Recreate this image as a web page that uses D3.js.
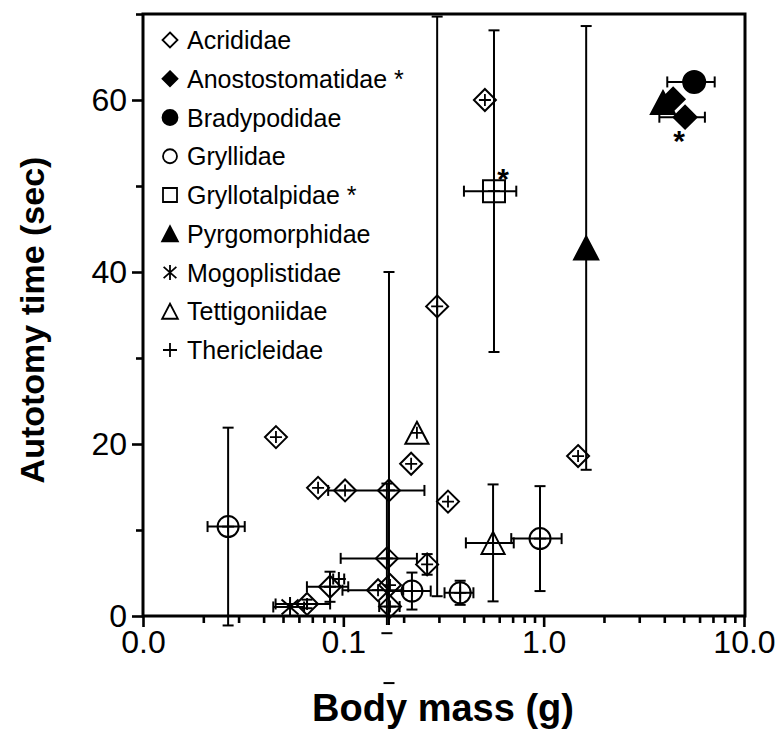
<!DOCTYPE html>
<html><head><meta charset="utf-8">
<script src="https://cdn.jsdelivr.net/npm/d3@7"></script>
<style>body{margin:0;background:#fff}svg{display:block}</style>
</head><body><svg id="c" width="780" height="749"></svg>
<script>
// ---------- data: [body mass (g), autotomy time (s), mass err, time err (number or [low, high])]
const families = ["Acrididae","Anostostomatidae *","Bradypodidae","Gryllidae","Gryllotalpidae *","Pyrgomorphidae","Mogoplistidae","Tettigoniidae","Thericleidae"];
const acrididae = [
  [0.0461,20.8,0,0],[0.0748,14.9,0,0],[0.102,14.6,0,0],[0.169,14.6,0.085,[22.4,25.4]],
  [0.0659,1.4,0.02,0.5],[0.0858,3.4,0.02,1.75],[0.165,6.7,0.068,8.7],[0.149,3.0,0.05,0],
  [0.171,3.6,0,0],[0.171,1.1,0.02,0],[0.262,6.0,0,1.2],[0.218,17.7,0,0],
  [0.333,13.3,0,0],[0.294,36.0,0,33.7],[0.509,60.0,0,0],[1.485,18.6,0,0]
];
const anostostomatidae = [[5.08,58.0,1.3,0],[4.43,60.1,0,0]];
const bradypodidae = [[5.64,62.1,1.5,0]];
const gryllidae = [[0.0266,10.4,0.0056,11.5],[0.220,2.9,0.053,2.15],[0.383,2.7,0.063,1.4],[0.959,9.0,0.27,6.1]];
const gryllotalpidae = [[0.565,49.4,0.165,18.7]];
const pyrgomorphidae = [[1.63,42.8,0,25.8],[3.94,59.7,0,0]];
const mogoplistidae = [[0.0542,1.05,0.0095,0]];
const tettigoniidae = [[0.233,21.3,0,0],[0.559,8.5,0.15,6.8]];
const thericleidae = [[0.095,4.3,0.006,0]];
const xMajorTicks = [0.01,0.1,1,10];
const xTickLabels = ["0.0","0.1","1.0","10.0"];
const yMajorTicks = [0,20,40,60];
const yMinorTicks = [10,30,50,70];

// ---------- styles per family
const styles = [
  {shape:"diamond", fill:false, s:11},
  {shape:"diamond", fill:true,  s:11.5},
  {shape:"circle",  fill:true,  s:11},
  {shape:"circle",  fill:false, s:10.5},
  {shape:"square",  fill:false, s:11},
  {shape:"triangle",fill:true,  s:11.5},
  {shape:"asterisk",fill:false, s:10},
  {shape:"triangle",fill:false, s:11},
  {shape:"plus",    fill:false, s:7}
];
const seriesData = [acrididae,anostostomatidae,bradypodidae,gryllidae,gryllotalpidae,pyrgomorphidae,mogoplistidae,tettigoniidae,thericleidae];

const L=143,R=744,T=14,B=616;
const svg=d3.select("#c");
const x=d3.scaleLog().domain([0.01,10]).range([L,R]);
const y=d3.scaleLinear().domain([0,70]).range([B,T]);
const FONT="'Liberation Sans', Arial, Helvetica, sans-serif";

function shapePath(t,s){
  switch(t){
    case "diamond": return `M0,${-s}L${s},0L0,${s}L${-s},0Z`;
    case "circle": return `M${s},0A${s},${s} 0 1,1 ${-s},0A${s},${s} 0 1,1 ${s},0Z`;
    case "square": return `M${-s},${-s}H${s}V${s}H${-s}Z`;
    case "triangle": return `M0,${-s}L${s*1.05},${s}L${-s*1.05},${s}Z`;
    case "asterisk": return `M0,${-s}V${s}M${-0.85*s},${-0.75*s}L${0.85*s},${0.75*s}M${-0.85*s},${0.75*s}L${0.85*s},${-0.75*s}`;
    case "plus": return `M${-s},0H${s}M0,${-s}V${s}`;
  }
}

// ---------- axes
const minorX=[];
[0.01,0.1,1].forEach(d=>{for(let k=2;k<=9;k++) minorX.push(d*k);});
const gx=svg.append("g").attr("transform",`translate(0,${B})`);
gx.call(d3.axisBottom(x).tickValues(minorX).tickSize(7).tickFormat(""));
gx.select(".domain").remove();
const gx2=svg.append("g").attr("transform",`translate(0,${B})`);
gx2.call(d3.axisBottom(x).tickValues(xMajorTicks).tickSize(11).tickPadding(3)
  .tickFormat((d,i)=>xTickLabels[i]));
gx2.select(".domain").remove();
gx2.selectAll("text").attr("font-size",32).attr("font-family",FONT).attr("fill","#000");

const gy=svg.append("g").attr("transform",`translate(${L},0)`);
gy.call(d3.axisLeft(y).tickValues(yMinorTicks).tickSize(7).tickFormat(""));
gy.select(".domain").remove();
const gy2=svg.append("g").attr("transform",`translate(${L},0)`);
gy2.call(d3.axisLeft(y).tickValues(yMajorTicks).tickSize(11).tickPadding(5).tickFormat(d3.format("d")));
gy2.select(".domain").remove();
gy2.selectAll("text").attr("font-size",32).attr("font-family",FONT).attr("fill","#000");
svg.selectAll(".tick line").attr("stroke","#000").attr("stroke-width",2.6);

// frame
svg.append("path").attr("d",`M${L},${T}H${R+1}V${B}H${L}Z`).attr("fill","none").attr("stroke","#000").attr("stroke-width",3);

// ---------- error bars
const eb=svg.append("g").attr("stroke","#000").attr("stroke-width",2).attr("fill","none");
const CAP=5.5, LOWCLIP=B+9;
seriesData.forEach((arr)=>{
  arr.forEach(p=>{
    const cx=x(p[0]), cy=y(p[1]);
    if(p[2]>0){
      const x0=x(p[0]-p[2]), x1=x(p[0]+p[2]);
      eb.append("line").attr("x1",x0).attr("x2",x1).attr("y1",cy).attr("y2",cy);
      [x0,x1].forEach(v=>eb.append("line").attr("x1",v).attr("x2",v).attr("y1",cy-CAP).attr("y2",cy+CAP));
    }
    const te=Array.isArray(p[3])?p[3]:[p[3],p[3]];
    if(te[0]>0||te[1]>0){
      const y0=y(p[1]-te[0]), y1=Math.max(y(p[1]+te[1]),T+1);
      eb.append("line").attr("x1",cx).attr("x2",cx).attr("y1",Math.min(y0,LOWCLIP)).attr("y2",y1);
      [y0,y1].forEach(v=>eb.append("line").attr("x1",cx-CAP).attr("x2",cx+CAP).attr("y1",v).attr("y2",v));
    }
  });
});

// ---------- markers
const mk=svg.append("g");
seriesData.forEach((arr,i)=>{
  const st=styles[i];
  arr.forEach(p=>{
    const g=mk.append("g").attr("transform",`translate(${x(p[0])},${y(p[1])})`);
    g.append("path").attr("d",shapePath(st.shape,st.s))
      .attr("fill",st.fill?"#000":"none").attr("stroke","#000").attr("stroke-width",2)
      .attr("stroke-linejoin","miter");
    if(!st.fill && st.shape!=="plus" && st.shape!=="asterisk"){
      g.append("path").attr("d",shapePath("plus",6)).attr("stroke","#000").attr("stroke-width",1.8);
    }
  });
});

// annotation asterisks (significance marks) next to points
const annot=[[gryllotalpidae[0],9,-2],[anostostomatidae[0],-6,34]];
annot.forEach(a=>{
  svg.append("text").attr("x",x(a[0][0])+a[1]).attr("y",y(a[0][1])+a[2])
    .attr("text-anchor","middle").attr("font-size",30).attr("font-weight","bold").attr("font-family",FONT).text("*");
});

// ---------- legend
const lg=svg.append("g");
const legendSizes=[7.5,7.5,7.5,7,7,7.5,7.5,7.5,7];
families.forEach((f,i)=>{
  const yy=40+i*38.75, st=styles[i];
  lg.append("path").attr("transform",`translate(170,${yy})`)
    .attr("d",shapePath(st.shape,legendSizes[i]))
    .attr("fill",st.fill?"#000":"none").attr("stroke","#000").attr("stroke-width",1.8);
  lg.append("text").attr("x",187).attr("y",yy+9).attr("font-size",25).attr("font-family",FONT).text(f);
});

// ---------- titles
svg.append("text").attr("transform","translate(44,320) rotate(-90)").attr("text-anchor","middle")
  .attr("font-size",34).attr("font-weight","bold").attr("font-family",FONT).text("Autotomy time (sec)");
svg.append("text").attr("x",443).attr("y",721).attr("text-anchor","middle")
  .attr("font-size",38).attr("font-weight","bold").attr("font-family",FONT).text("Body mass (g)");
</script></body></html>
